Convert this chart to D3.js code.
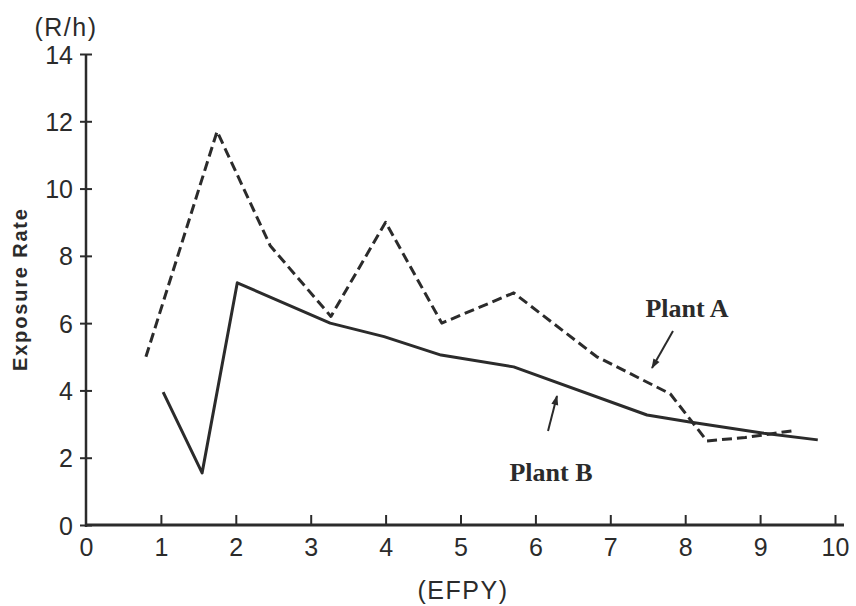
<!DOCTYPE html>
<html>
<head>
<meta charset="utf-8">
<script src="https://cdn.jsdelivr.net/npm/d3@7/dist/d3.min.js"></script>
<style>
  html, body { margin: 0; padding: 0; background: #fff; }
  svg { display: block; }
</style>
</head>
<body>
<svg id="chart" width="856" height="606"></svg>
<script>
// ---- data ----
const xTicks = [0, 1, 2, 3, 4, 5, 6, 7, 8, 9, 10];
const yTicks = [0, 2, 4, 6, 8, 10, 12, 14];
const plantA_x = [0.80, 1.75, 2.46, 3.27, 4.00, 4.75, 5.71, 6.82, 7.80, 8.29, 8.80, 9.43];
const plantA_y = [5.0, 11.7, 8.3, 6.2, 9.0, 6.0, 6.9, 5.0, 3.9, 2.5, 2.6, 2.8];
const plantB_x = [1.03, 1.55, 2.02, 3.26, 3.98, 4.74, 5.71, 7.49, 8.06, 9.05, 9.77];
const plantB_y = [3.95, 1.55, 7.2, 6.0, 5.6, 5.05, 4.7, 3.27, 3.06, 2.73, 2.53];
const seriesLabels = ["Plant A", "Plant B"];
const yUnit = "(R/h)";
const yTitle = "Exposure Rate";
const xTitle = "(EFPY)";

const ink = "#2b2b2b";
const svg = d3.select("#chart");
const x = d3.scaleLinear().domain([0, 10]).range([86, 835]);
const y = d3.scaleLinear().domain([0, 14]).range([525, 54]);

// axes lines
svg.append("line").attr("x1", x(0)).attr("x2", x(0)).attr("y1", y(14)).attr("y2", y(0) + 2)
  .attr("stroke", ink).attr("stroke-width", 2.5);
svg.append("line").attr("x1", x(0) - 1).attr("x2", x(10.12)).attr("y1", y(0)).attr("y2", y(0))
  .attr("stroke", ink).attr("stroke-width", 3);

// y ticks
const yAxis = d3.axisLeft(y).tickValues(yTicks).tickSize(0).tickPadding(0);
const gy = svg.append("g").attr("transform", `translate(${x(0)},0)`).call(yAxis);
gy.select(".domain").remove();
gy.selectAll(".tick line").remove();
gy.selectAll(".tick").append("line")
  .attr("x1", -6).attr("x2", 6).attr("stroke", ink).attr("stroke-width", 2);
gy.selectAll(".tick text")
  .attr("x", -13).attr("dy", "0.36em")
  .attr("font-family", "Liberation Sans, Arial, sans-serif")
  .attr("font-size", 25).attr("fill", ink).attr("text-anchor", "end");

// x ticks
const xAxis = d3.axisBottom(x).tickValues(xTicks).tickSize(0).tickPadding(0);
const gx = svg.append("g").attr("transform", `translate(0,${y(0)})`).call(xAxis);
gx.select(".domain").remove();
gx.selectAll(".tick line").remove();
gx.selectAll(".tick").filter(d => d > 0).append("line")
  .attr("y1", 0).attr("y2", -10).attr("stroke", ink).attr("stroke-width", 2);
gx.selectAll(".tick text")
  .attr("y", 22).attr("dy", "0.36em")
  .attr("font-family", "Liberation Sans, Arial, sans-serif")
  .attr("font-size", 25).attr("fill", ink);

// titles
const sans = "Liberation Sans, Arial, sans-serif";
svg.append("text").attr("x", 66).attr("y", 36).attr("text-anchor", "middle")
  .attr("font-family", sans).attr("font-size", 25).attr("letter-spacing", 1.5)
  .attr("fill", ink).text(yUnit);
svg.append("text").attr("transform", "translate(27,290) rotate(-90)")
  .attr("text-anchor", "middle").attr("font-family", sans).attr("font-weight", "bold")
  .attr("font-size", 20).attr("textLength", 162).attr("lengthAdjust", "spacing")
  .attr("fill", ink).text(yTitle);
svg.append("text").attr("x", 463).attr("y", 599).attr("text-anchor", "middle")
  .attr("font-family", sans).attr("font-size", 25).attr("letter-spacing", 1.5)
  .attr("fill", ink).text(xTitle);

// series
const line = d3.line().x(d => x(d[0])).y(d => y(d[1]));
const dataA = plantA_x.map((v, i) => [v, plantA_y[i]]);
const dataB = plantB_x.map((v, i) => [v, plantB_y[i]]);
svg.append("path").datum(dataA).attr("d", line).attr("fill", "none")
  .attr("stroke", ink).attr("stroke-width", 3).attr("stroke-dasharray", "10,5")
  .attr("stroke-linejoin", "round");
svg.append("path").datum(dataB).attr("d", line).attr("fill", "none")
  .attr("stroke", ink).attr("stroke-width", 3).attr("stroke-linejoin", "round");

// labels
const serif = "Liberation Serif, Times New Roman, serif";
svg.append("text").attr("x", 687).attr("y", 317).attr("text-anchor", "middle")
  .attr("font-family", serif).attr("font-weight", "bold").attr("font-size", 26)
  .attr("fill", ink).text(seriesLabels[0]);
svg.append("text").attr("x", 551).attr("y", 481).attr("text-anchor", "middle")
  .attr("font-family", serif).attr("font-weight", "bold").attr("font-size", 26)
  .attr("fill", ink).text(seriesLabels[1]);

// arrows
svg.append("defs").append("marker").attr("id", "ah").attr("viewBox", "0 0 10 10")
  .attr("refX", 9).attr("refY", 5).attr("markerWidth", 6).attr("markerHeight", 5)
  .attr("markerUnits", "strokeWidth").attr("orient", "auto")
  .append("path").attr("d", "M0,1.5 L10,5 L0,8.5 Z").attr("fill", ink);
svg.append("line").attr("x1", 673).attr("y1", 331).attr("x2", 652).attr("y2", 368)
  .attr("stroke", ink).attr("stroke-width", 2).attr("marker-end", "url(#ah)");
svg.append("line").attr("x1", 548).attr("y1", 431).attr("x2", 557).attr("y2", 396)
  .attr("stroke", ink).attr("stroke-width", 2).attr("marker-end", "url(#ah)");
</script>
</body>
</html>
